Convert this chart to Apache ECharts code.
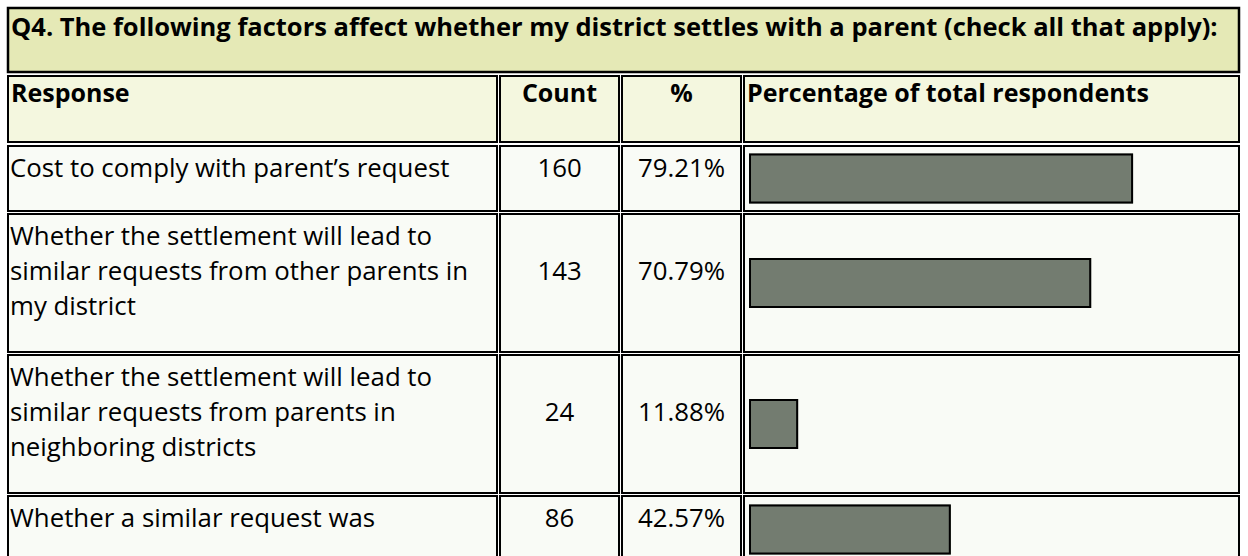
<!DOCTYPE html>
<html lang="en">
<head>
<meta charset="UTF-8" />
<title>Q4 settlement factors</title>
<script src="https://cdn.jsdelivr.net/npm/echarts@6/dist/echarts.min.js"></script>
<style>
  html, body { margin: 0; padding: 0; background: #fff; }
</style>
</head>
<body>
<div id="main" style="width: 1248px; height: 556px"></div>
<script>
const question = "Q4. The following factors affect whether my district settles with a parent (check all that apply):";
const headers = ["Response", "Count", "%", "Percentage of total respondents"];
const responses = [
  ["Cost to comply with parent’s request"],
  ["Whether the settlement will lead to", "similar requests from other parents in", "my district"],
  ["Whether the settlement will lead to", "similar requests from parents in", "neighboring districts"],
  ["Whether a similar request was"]
];
const counts = [160, 143, 24, 86];
const percents = [79.21, 70.79, 11.88, 42.57];

// table layout (pixels)
const cols = [[8, 497], [500, 619], [622, 741], [744, 1239]];
const headRow = [76, 142];
const rows = [[146, 211], [214, 352], [355, 493], [496, 563]];
const lineH = 35;
const barH = 50;

const bodyFont = "25.8px 'Open Sans'";
const headFont = "bold 25px 'Open Sans'";

let graphics = [];

function cell(x0, y0, x1, y1, fill, lw) {
  graphics.push({
    type: "rect",
    silent: true,
    z: 1,
    shape: { x: x0, y: y0, width: x1 - x0, height: y1 - y0 },
    style: { fill: fill, stroke: "#000", lineWidth: lw || 2 }
  });
}
function label(text, x, y, font, align) {
  graphics.push({
    type: "text",
    silent: true,
    z: 10,
    x: x,
    y: y,
    style: { text: text, font: font, fill: "#000", align: align || "left", verticalAlign: "middle" }
  });
}

// question box
cell(8, 8, 1239, 72, "#e5e9b6", 2.5);
label(question, 11, 26, "bold 25.5px 'Open Sans'");

// header row
cols.forEach((c, j) => {
  cell(c[0], headRow[0], c[1], headRow[1], "#f4f7df", 2);
  const centered = j === 1 || j === 2;
  label(headers[j], centered ? (c[0] + c[1]) / 2 : c[0] + 3, 92, headFont, centered ? "center" : "left");
});

// body rows
rows.forEach((r, i) => {
  cols.forEach(c => cell(c[0], r[0], c[1], r[1], "#f9fbf6", 2));
  const lines = responses[i];
  let sum = 0;
  lines.forEach((t, k) => {
    const y = r[0] + 21 + k * lineH;
    sum += y;
    label(t, cols[0][0] + 2, y, bodyFont);
  });
  const midY = sum / lines.length;
  label(String(counts[i]), (cols[1][0] + cols[1][1]) / 2, midY, bodyFont, "center");
  label(percents[i].toFixed(2) + "%", (cols[2][0] + cols[2][1]) / 2, midY, bodyFont, "center");
});

// one small grid per row so each bar sits in its own cell
let grids = [], xAxes = [], yAxes = [], series = [];
rows.forEach((r, i) => {
  const mid = (r[0] + r[1]) / 2;
  grids.push({ left: 749, top: mid - barH / 2, width: 487.5, height: barH });
  xAxes.push({ type: "value", gridIndex: i, min: 2, max: 100, startValue: 2, show: false });
  yAxes.push({ type: "category", gridIndex: i, data: [responses[i].join(" ")], show: false });
  series.push({
    type: "bar", xAxisIndex: i, yAxisIndex: i, data: [percents[i]],
    barWidth: barH, clip: false, silent: true, z: 3,
    itemStyle: { color: "#737c70", borderColor: "#6c776a", borderWidth: 5 }
  });
  series.push({
    type: "bar", xAxisIndex: i, yAxisIndex: i, data: [percents[i]],
    barWidth: barH, barGap: "-100%", clip: false, silent: true, z: 4,
    itemStyle: { color: "#737c70", borderColor: "#000", borderWidth: 2 }
  });
});

let myChart = echarts.init(document.getElementById("main"), null, { renderer: "svg" });
myChart.setOption({
  animation: false,
  backgroundColor: "#ffffff",
  grid: grids,
  xAxis: xAxes,
  yAxis: yAxes,
  series: series,
  graphic: { elements: graphics }
});
</script>
</body>
</html>
